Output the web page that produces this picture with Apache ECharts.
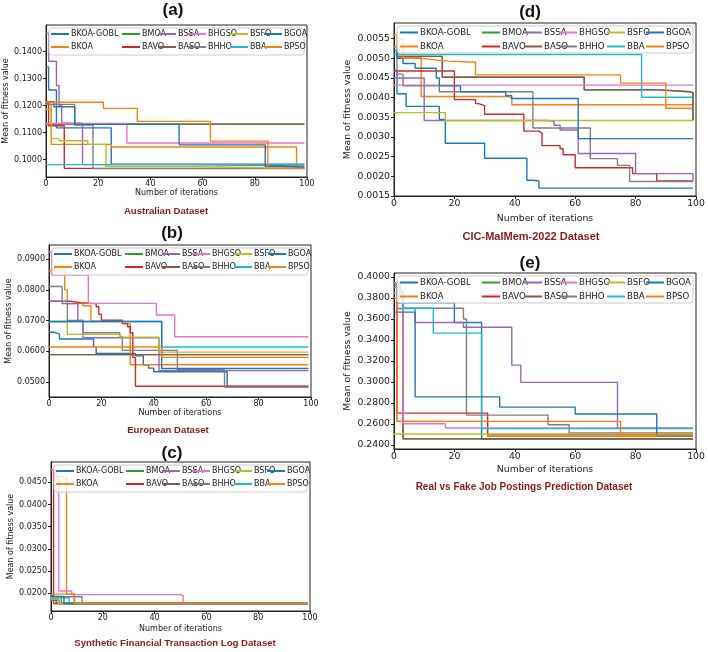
<!DOCTYPE html>
<html><head><meta charset="utf-8">
<script src="https://cdn.jsdelivr.net/npm/echarts@6/dist/echarts.min.js"></script>
<style>html,body{margin:0;padding:0;background:#fff}#c{width:708px;height:652px}</style>
</head><body><div id="c"></div>
<script>
// ---------- categories / names ----------
const SERIES_NAMES = ['BKOA-GOBL','BKOA','BMOA','BAVO','BSSA','BASO','BHGSO','BHHO','BSFO','BBA','BGOA','BPSO'];
const SERIES_COLORS = ['#1f77b4','#ff7f0e','#2ca02c','#d62728','#9467bd','#8c564b','#e377c2','#7f7f7f','#bcbd22','#17becf','#1f77b4','#ff7f0e'];
const X_TICKS = [0,20,40,60,80,100];
const A_YTICKS = [0.10,0.11,0.12,0.13,0.14];
const B_YTICKS = [0.05,0.06,0.07,0.08,0.09];
const C_YTICKS = [0.020,0.025,0.030,0.035,0.040,0.045];
const D_YTICKS = [0.0015,0.0020,0.0025,0.0030,0.0035,0.0040,0.0045,0.0050,0.0055];
const E_YTICKS = [0.24,0.26,0.28,0.30,0.32,0.34,0.36,0.38,0.40];

// ---------- (a) Australian: [iteration, value] where value changes ----------
const A_BKOA_GOBL = [[0,0.1344],[1,0.1258],[4,0.1118],[25,0.0983],[99,0.0983]];
const A_BKOA  = [[0,0.1206],[2,0.1057],[25,0.1047],[96,0.0968],[99,0.0968]];
const A_BMOA  = [[0,0.1132],[99,0.1132]];
const A_BAVO  = [[0,0.1210],[1,0.1126],[7,0.0968],[99,0.0968]];
const A_BSSA  = [[0,0.1470],[1,0.1365],[4,0.1275],[5,0.1200],[6,0.1135],[14,0.0982],[56,0.0977],[99,0.0977]];
const A_BASO  = [[0,0.1132],[99,0.1132]];
const A_BHGSO = [[0,0.1134],[31,0.1062],[99,0.1062]];
const A_BHHO  = [[0,0.1205],[11,0.1128],[18,0.0967],[99,0.0967]];
const A_BSFO  = [[0,0.1187],[2,0.1078],[5,0.1070],[16,0.1057],[23,0.0975],[56,0.0968],[99,0.0968]];
const A_BBA   = [[0,0.0982],[99,0.0982]];
const A_BGOA  = [[0,0.1215],[3,0.1196],[11,0.1131],[51,0.1055],[84,0.0976],[90,0.0972],[99,0.0972]];
const A_BPSO  = [[0,0.1213],[22,0.1190],[35,0.1142],[63,0.1069],[85,0.0968],[99,0.0968]];

// ---------- (b) European ----------
const B_BKOA_GOBL = [[0,0.0662],[2,0.0656],[4,0.0640],[17,0.0615],[18,0.0593],[33,0.0585],[36,0.0555],[38,0.0545],[40,0.0533],[68,0.0485],[99,0.0485]];
const B_BKOA  = [[0,0.0862],[6,0.0800],[7,0.0755],[13,0.0748],[16,0.0698],[28,0.0690],[31,0.0556],[99,0.0556]];
const B_BMOA  = [[0,0.0589],[99,0.0589]];
const B_BAVO  = [[0,0.0763],[8,0.0758],[12,0.0755],[18,0.0745],[19,0.0720],[20,0.0701],[28,0.0690],[30,0.0680],[31,0.0660],[32,0.0580],[33,0.0486],[99,0.0486]];
const B_BSSA  = [[0,0.0763],[5,0.0755],[11,0.0700],[13,0.0644],[41,0.0643],[42,0.0537],[99,0.0537]];
const B_BASO  = [[0,0.0589],[99,0.0589]];
const B_BHGSO = [[0,0.0924],[1,0.0848],[15,0.0756],[41,0.0718],[48,0.0647],[99,0.0647]];
const B_BHHO  = [[0,0.0811],[5,0.0762],[7,0.0700],[13,0.0660],[27,0.0648],[28,0.0603],[49,0.0540],[67,0.0483],[99,0.0483]];
const B_BSFO  = [[0,0.0696],[7,0.0655],[27,0.0646],[42,0.0597],[99,0.0597]];
const B_BBA   = [[0,0.0697],[43,0.0614],[99,0.0614]];
const B_BGOA  = [[0,0.0697],[43,0.0544],[99,0.0544]];
const B_BPSO  = [[0,0.0614],[43,0.0580],[99,0.0580]];

// ---------- (c) Synthetic Financial Transaction Log ----------
const C_BKOA_GOBL = [[0,0.0195],[1,0.0185],[2,0.0177],[99,0.0177]];
const C_BKOA  = [[0,0.0478],[1,0.0463],[6,0.0198],[9,0.0177],[99,0.0177]];
const C_BMOA  = [[0,0.0185],[3,0.0177],[99,0.0177]];
const C_BAVO  = [[0,0.0478],[1,0.0177],[99,0.0177]];
const C_BSSA  = [[0,0.0192],[12,0.0177],[99,0.0177]];
const C_BASO  = [[0,0.0185],[3,0.0177],[99,0.0177]];
const C_BHGSO = [[0,0.0478],[2,0.0460],[3,0.0205],[8,0.0197],[50,0.0195],[51,0.0177],[99,0.0177]];
const C_BHHO  = [[0,0.0190],[4,0.0177],[99,0.0177]];
const C_BSFO  = [[0,0.0187],[3,0.0177],[99,0.0177]];
const C_BBA   = [[0,0.0190],[7,0.0177],[99,0.0177]];
const C_BGOA  = [[0,0.0193],[5,0.0177],[99,0.0177]];
const C_BPSO  = [[0,0.0198],[9,0.0177],[99,0.0177]];

// ---------- (d) CIC-MalMem-2022 ----------
const D_BKOA_GOBL = [[0,0.00470],[1,0.00410],[4,0.00378],[15,0.00345],[17,0.00284],[30,0.00246],[44,0.00190],[46,0.00188],[48,0.00170],[99,0.00170]];
const D_BKOA  = [[0,0.00560],[1,0.00503],[9,0.00403],[38,0.00398],[39,0.00382],[99,0.00382]];
const D_BMOA  = [[0,0.00530],[1,0.00505],[16,0.00452],[63,0.00420],[88,0.00415],[98,0.00413],[99,0.00342]];
const D_BAVO  = [[0,0.00468],[20,0.00395],[27,0.00385],[28,0.00380],[30,0.00358],[43,0.00315],[48,0.00310],[49,0.00278],[55,0.00270],[56,0.00255],[60,0.00222],[79,0.00207],[87,0.00188],[99,0.00188]];
const D_BSSA  = [[0,0.00450],[10,0.00342],[51,0.00340],[53,0.00330],[55,0.00318],[61,0.00258],[80,0.00207],[99,0.00188]];
const D_BASO  = [[0,0.00530],[1,0.00505],[16,0.00452],[63,0.00420],[88,0.00415],[98,0.00413],[99,0.00342]];
const D_BHGSO = [[0,0.00432],[99,0.00432]];
const D_BHHO  = [[0,0.00530],[1,0.00460],[3,0.00430],[15,0.00415],[46,0.00323],[65,0.00245],[74,0.00228],[78,0.00187],[99,0.00187]];
const D_BSFO  = [[0,0.00362],[17,0.00342],[99,0.00342]];
const D_BBA   = [[0,0.00510],[82,0.00401],[99,0.00401]];
const D_BGOA  = [[0,0.00520],[1,0.00500],[3,0.00487],[7,0.00475],[14,0.00450],[15,0.00430],[22,0.00415],[37,0.00405],[39,0.00398],[61,0.00296],[99,0.00296]];
const D_BPSO  = [[0,0.00530],[1,0.00550],[3,0.00500],[9,0.00495],[15,0.00493],[18,0.00490],[27,0.00458],[75,0.00437],[90,0.00373],[99,0.00373]];

// ---------- (e) Real vs Fake Job Postings ----------
const E_BKOA_GOBL = [[0,0.3945],[1,0.3755],[20,0.3566],[29,0.2457],[99,0.2457]];
const E_BKOA  = [[0,0.3945],[1,0.2625],[31,0.2482],[99,0.2482]];
const E_BMOA  = [[0,0.3920],[2,0.3865],[3,0.2458],[99,0.2458]];
const E_BAVO  = [[0,0.3945],[1,0.2704],[31,0.2497],[99,0.2497]];
const E_BSSA  = [[0,0.3900],[1,0.3700],[7,0.3567],[23,0.3522],[39,0.3161],[42,0.2996],[74,0.2562],[99,0.2562]];
const E_BASO  = [[0,0.3920],[2,0.3865],[3,0.2458],[99,0.2458]];
const E_BHGSO = [[0,0.3850],[3,0.2603],[17,0.2562],[99,0.2562]];
const E_BHHO  = [[0,0.3945],[1,0.3815],[3,0.3703],[23,0.3600],[24,0.2685],[51,0.2593],[58,0.2514],[99,0.2514]];
const E_BSFO  = [[0,0.2505],[99,0.2505]];
const E_BBA   = [[0,0.3945],[2,0.3805],[3,0.3703],[13,0.3465],[29,0.2556],[99,0.2556]];
const E_BGOA  = [[0,0.3665],[7,0.2858],[35,0.2761],[60,0.2695],[87,0.2488],[99,0.2488]];
const E_BPSO  = [[0,0.3800],[1,0.2625],[75,0.2495],[99,0.2495]];

// ---------- layout (positions, not data) ----------
const panels = [
  {label:'(a)', caption:'Australian Dataset', ticks:A_YTICKS, ymin:0.0936, ymax:0.1499,
   data:[A_BKOA_GOBL,A_BKOA,A_BMOA,A_BAVO,A_BSSA,A_BASO,A_BHGSO,A_BHHO,A_BSFO,A_BBA,A_BGOA,A_BPSO],
   box:{left:46,top:25,width:261,height:152}, titleXY:[173,2], capXY:[166,206], capFs:9.6, xGap:12, yGap:35, fs:8, lfs:8},
  {label:'(b)', caption:'European Dataset', ticks:B_YTICKS, ymin:0.0451, ymax:0.0946,
   data:[B_BKOA_GOBL,B_BKOA,B_BMOA,B_BAVO,B_BSSA,B_BASO,B_BHGSO,B_BHHO,B_BSFO,B_BBA,B_BGOA,B_BPSO],
   box:{left:49,top:245,width:262,height:152}, titleXY:[172,225], capXY:[168,425], capFs:9.6, xGap:12, yGap:34, fs:8, lfs:8},
  {label:'(c)', caption:'Synthetic Financial Transaction Log Dataset', ticks:C_YTICKS, ymin:0.0160, ymax:0.0496,
   data:[C_BKOA_GOBL,C_BKOA,C_BMOA,C_BAVO,C_BSSA,C_BASO,C_BHGSO,C_BHHO,C_BSFO,C_BBA,C_BGOA,C_BPSO],
   box:{left:51,top:462,width:259,height:149}, titleXY:[172,445], capXY:[175,638], capFs:9.6, xGap:14, yGap:35, fs:8, lfs:8},
  {label:'(d)', caption:'CIC-MalMem-2022 Dataset', ticks:D_YTICKS, ymin:0.0015, ymax:0.0059,
   data:[D_BKOA_GOBL,D_BKOA,D_BMOA,D_BAVO,D_BSSA,D_BASO,D_BHGSO,D_BHHO,D_BSFO,D_BBA,D_BGOA,D_BPSO],
   box:{left:394,top:23,width:302,height:173}, titleXY:[530,4], capXY:[531,231], capFs:11, xGap:18, yGap:42, fs:9.3, lfs:8.6},
  {label:'(e)', caption:'Real vs Fake Job Postings Prediction Dataset', ticks:E_YTICKS, ymin:0.2362, ymax:0.4038,
   data:[E_BKOA_GOBL,E_BKOA,E_BMOA,E_BAVO,E_BSSA,E_BASO,E_BHGSO,E_BHHO,E_BSFO,E_BBA,E_BGOA,E_BPSO],
   box:{left:394,top:273,width:302,height:176}, titleXY:[530,255], capXY:[524,482], capFs:10, xGap:16, yGap:42, fs:9.3, lfs:8.6}
];
const LEGEND_COLS = [0.02,0.29,0.43,0.545,0.705,0.835];
const TXT = '#1a1a1a';
const FONT = 'DejaVu Sans';

const grid=[], xAxis=[], yAxis=[], series=[], legend=[], title=[], graphic=[];
panels.forEach((p,i)=>{
  const b=p.box;
  grid.push({left:b.left, top:b.top, width:b.width, height:b.height, show:true, borderColor:'#222', borderWidth:1, backgroundColor:'#fff'});
  xAxis.push({gridIndex:i, type:'value', min:0, max:100, interval:20,
    name:'Number of iterations', nameLocation:'middle', nameGap:p.xGap,
    nameTextStyle:{fontSize:p.fs, color:TXT, fontFamily:FONT},
    axisLine:{show:true, lineStyle:{color:'#222', width:1}},
    axisTick:{show:true, length:3, lineStyle:{color:'#222'}, customValues:X_TICKS},
    axisLabel:{fontSize:p.fs, color:TXT, fontFamily:FONT, margin:3, customValues:X_TICKS},
    splitLine:{show:false}});
  yAxis.push({gridIndex:i, type:'value', min:p.ymin, max:p.ymax,
    name:'Mean of fitness value', nameLocation:'middle', nameGap:p.yGap,
    nameTextStyle:{fontSize:p.fs, color:TXT, fontFamily:FONT},
    axisLine:{show:true, lineStyle:{color:'#222', width:1}},
    axisTick:{show:true, length:3, lineStyle:{color:'#222'}, customValues:p.ticks},
    axisLabel:{fontSize:p.fs, color:TXT, fontFamily:FONT, margin:4, customValues:p.ticks, formatter:v=>v.toFixed(4)},
    splitLine:{show:false}});
  SERIES_NAMES.forEach((n,k)=>{
    series.push({type:'line', name:n, xAxisIndex:i, yAxisIndex:i, data:p.data[k], step:'end',
      showSymbol:false, symbol:'none', color:SERIES_COLORS[k],
      lineStyle:{width:1.4, color:SERIES_COLORS[k]}, z:2, silent:true});
  });
  LEGEND_COLS.forEach((f,c)=>{
    legend.push({data:[SERIES_NAMES[2*c], SERIES_NAMES[2*c+1]], orient:'vertical',
      left:Math.round(b.left + f*b.width), top:b.top+5, padding:0, itemGap:5,
      itemWidth:18, itemHeight:2, icon:'rect', selectedMode:false,
      textStyle:{fontSize:p.lfs, color:TXT, fontFamily:FONT, padding:[0,0,0,-3]}});
  });
  graphic.push({type:'rect', z:3, shape:{x:b.left+3, y:b.top+3, width:b.width-6, height:27, r:3},
    style:{fill:'rgba(255,255,255,0.8)', stroke:'#cccccc', lineWidth:1}});
  title.push({text:p.label, left:p.titleXY[0], top:p.titleXY[1], textAlign:'center', padding:0,
    textStyle:{fontSize:17, fontWeight:'bold', color:'#111', fontFamily:'Liberation Sans'}});
  title.push({text:p.caption, left:p.capXY[0], top:p.capXY[1], textAlign:'center', padding:0,
    textStyle:{fontSize:p.capFs, fontWeight:'bold', color:'#8b1a1a', fontFamily:'Liberation Sans'}});
});

const chart = echarts.init(document.getElementById('c'), null, {renderer:'canvas'});
chart.setOption({animation:false, backgroundColor:'#fff', grid, xAxis, yAxis, series, legend, title, graphic});
</script></body></html>
